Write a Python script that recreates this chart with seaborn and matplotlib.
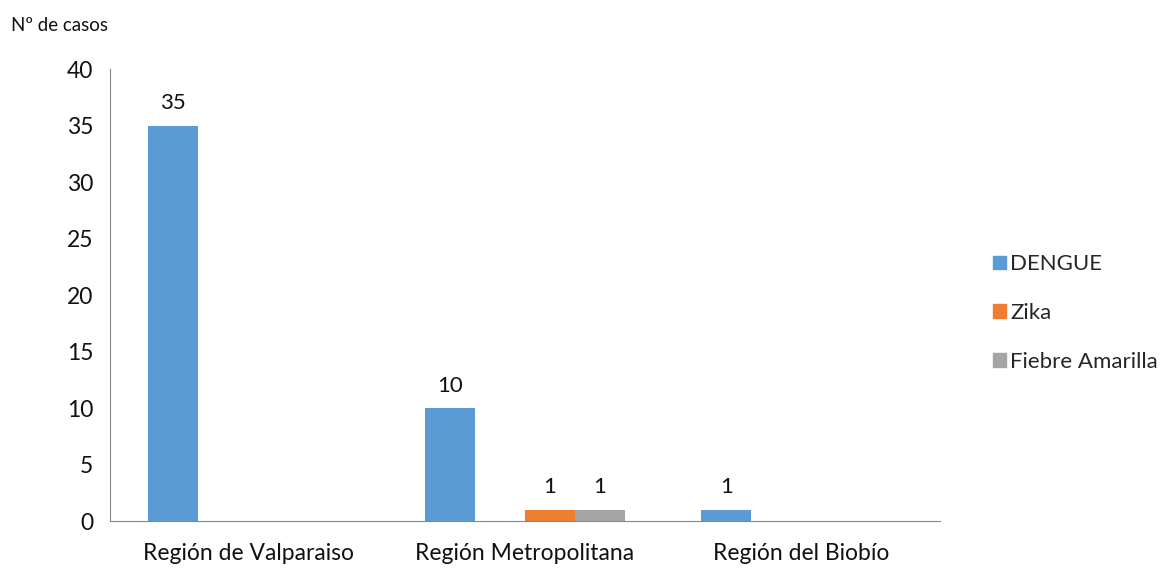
import numpy as np
import pandas as pd
import matplotlib.pyplot as plt
import seaborn as sns
from matplotlib.patches import Patch

regiones = ["Región de Valparaiso", "Región Metropolitana", "Región del Biobío"]
dengue = [35, 10, 1]
zika = [np.nan, 1, np.nan]
fiebre = [np.nan, 1, np.nan]
hueco = [np.nan, np.nan, np.nan]  # columna vacia del grafico original

series = ["DENGUE", " ", "Zika", "Fiebre Amarilla"]
colores = {"DENGUE": "#5B9BD5", " ": "#FFFFFF", "Zika": "#ED7D31", "Fiebre Amarilla": "#A5A5A5"}

df = pd.DataFrame({
    "region": regiones * 4,
    "serie": sum([[s] * 3 for s in series], []),
    "casos": dengue + hueco + zika + fiebre,
})

sns.set_style("white")
plt.rcParams['font.family'] = ['Lato', 'DejaVu Sans']

fig = plt.figure(figsize=(11.7, 5.68), dpi=100)
ax = fig.add_axes([0.094, 0.0827, 0.709, 0.7958])

sns.barplot(data=df, x="region", y="casos", hue="serie", hue_order=series,
            order=regiones, palette=colores, width=0.722, gap=0, saturation=1,
            linewidth=0, errorbar=None, ax=ax, legend=False)

for p in ax.patches:
    h = p.get_height()
    if np.isfinite(h) and h > 0:
        ax.annotate(f"{h:.0f}", (p.get_x() + p.get_width() / 2, h),
                    xytext=(0, 9), textcoords="offset points",
                    ha="center", va="bottom", fontsize=16, color="#111111")

ax.set_ylim(0, 40)
ax.set_yticks(range(0, 41, 5))
ax.set_xlim(-0.5, 2.5)
ax.set_xlabel("")
ax.set_ylabel("")
ax.set_xticks([-0.5, 0.5, 1.5, 2.5], minor=True)
ax.tick_params(axis="x", which="major", length=0, labelsize=16.5, pad=16, colors="#111111")
ax.tick_params(axis="x", which="minor", length=6, color="#888888", direction="out")
ax.tick_params(axis="y", length=6, color="#888888", direction="out", labelsize=16.5,
               colors="#111111", pad=6)
for s in ["top", "right"]:
    ax.spines[s].set_visible(False)
for s in ["left", "bottom"]:
    ax.spines[s].set_color("#888888")
    ax.spines[s].set_linewidth(0.8)

fig.text(0.009, 0.955, "Nº de casos", fontsize=13.5, color="#111111", va="center")

handles = [Patch(color=colores[s], label=s) for s in ["DENGUE", "Zika", "Fiebre Amarilla"]]
fig.legend(handles=handles, loc="center left", bbox_to_anchor=(0.832, 0.449),
           frameon=False, fontsize=16, handlelength=0.55, handleheight=0.55,
           handletextpad=0.2, labelspacing=1.3)

plt.savefig("out.png", dpi=100)
